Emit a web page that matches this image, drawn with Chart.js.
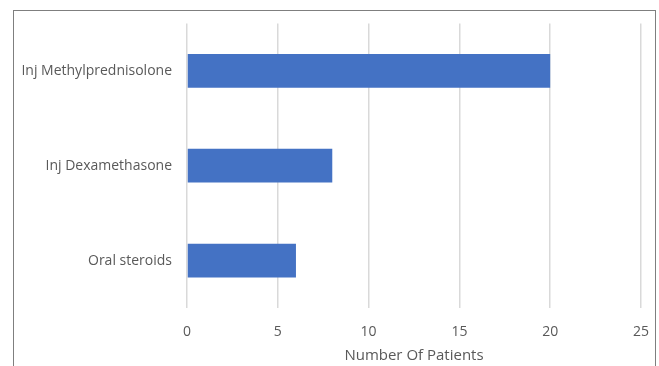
<!DOCTYPE html>
<html>
<head>
<meta charset="utf-8">
<script src="https://cdn.jsdelivr.net/npm/chart.js@4.4.1/dist/chart.umd.min.js"></script>
<style>
  html, body { margin: 0; padding: 0; background: #fff; overflow: hidden; }
  #wrap { position: relative; width: 659px; height: 366px; }
  #frame {
    position: absolute; left: 13px; top: 10px; width: 643px; height: 420px;
    border: 1.5px solid #7f7f7f; pointer-events: none; box-sizing: border-box;
  }
</style>
</head>
<body>
<div id="wrap">
  <canvas id="myChart" width="659" height="366"></canvas>
  <div id="frame"></div>
</div>
<script>
var categories = ['Inj Methylprednisolone', 'Inj Dexamethasone', 'Oral steroids'];
var patients = [20, 8, 6];
var xTicks = [0, 5, 10, 15, 20, 25];

var textColor = '#595959';
var fontFamily = "'Open Sans', 'Liberation Sans', sans-serif";

var data1 = {
    labels: categories,
    datasets: [{
        label: 'Number Of Patients',
        data: patients,
        backgroundColor: '#4472C4',
        borderWidth: 0,
        categoryPercentage: 1.0,
        barPercentage: 0.355
    }]
};

var config1 = {
    type: 'bar',
    data: data1,
    options: {
        indexAxis: 'y',
        responsive: false,
        animation: false,
        layout: {
            padding: { top: 21, right: 18, bottom: 0, left: 0 }
        },
        plugins: {
            legend: { display: false },
            tooltip: { enabled: false }
        },
        scales: {
            x: {
                min: 0,
                max: 25,
                afterBuildTicks: function(axis) {
                    axis.ticks = xTicks.map(function(v) { return { value: v }; });
                },
                afterFit: function(axis) {
                    axis.height = 58;
                    axis.paddingRight = 0;
                    axis.paddingLeft = 0;
                },
                grid: {
                    color: '#d9d9d9',
                    lineWidth: 1.5,
                    drawTicks: false
                },
                border: { display: false },
                ticks: {
                    color: textColor,
                    padding: 16,
                    font: { family: fontFamily, size: 14 }
                },
                title: {
                    display: true,
                    text: 'Number Of Patients',
                    color: textColor,
                    font: { family: fontFamily, size: 15 },
                    padding: { top: 0, bottom: 1 }
                }
            },
            y: {
                afterFit: function(axis) {
                    axis.width = 187;
                },
                grid: { display: false, drawTicks: false, tickLength: 0 },
                border: { display: false },
                ticks: {
                    color: textColor,
                    padding: 15,
                    font: { family: fontFamily, size: 14 }
                }
            }
        }
    }
};

var myChart1 = new Chart(document.getElementById('myChart'), config1);
</script>
</body>
</html>
